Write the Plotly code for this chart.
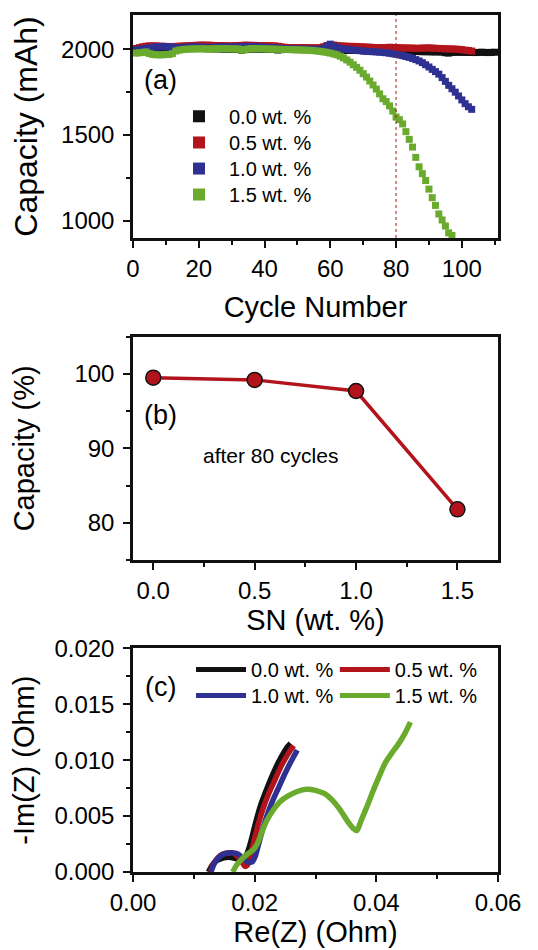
import plotly.graph_objects as go

FONT = "Liberation Sans, Arial, sans-serif"

# ---------------- Panel (a): capacity vs cycle ----------------
cycles_00 = list(range(1, 111))
cap_00 = [1995, 1998, 2000, 2000, 2002, 2003, 2003, 2002, 2001, 2000,
          2000, 2001, 2002, 2003, 2004, 2005, 2005, 2006, 2006, 2005,
          2005, 2004, 2004, 2003, 2003, 2003, 2002, 2002, 2001, 2001,
          2000, 2000, 1995, 1998, 2001, 2002, 2002, 2001, 2000, 2000,
          2000, 1999, 1999, 1996, 1998, 2000, 2001, 2001, 2000, 2000,
          1999, 1999, 1998, 1998, 1998, 1997, 1997, 1996, 1996, 1996,
          1995, 1995, 1995, 1994, 1994, 1994, 1993, 1993, 1993, 1992,
          1992, 1992, 1991, 1991, 1991, 1990, 1990, 1990, 1989, 1989,
          1989, 1988, 1988, 1988, 1987, 1987, 1987, 1986, 1986, 1986,
          1985, 1985, 1985, 1984, 1980, 1978, 1982, 1983, 1983, 1983,
          1982, 1982, 1982, 1981, 1982, 1983, 1982, 1981, 1982, 1983]

cycles_05 = list(range(1, 104))
cap_05 = [2005, 2010, 2015, 2018, 2020, 2020, 2020, 2018, 2018, 2017,
          2016, 2016, 2017, 2018, 2019, 2020, 2021, 2022, 2023, 2024,
          2025, 2024, 2024, 2023, 2022, 2022, 2021, 2021, 2020, 2020,
          2021, 2022, 2023, 2024, 2024, 2023, 2023, 2022, 2022, 2021,
          2021, 2020, 2020, 2018, 2015, 2012, 2010, 2010, 2010, 2010,
          2010, 2010, 2009, 2009, 2009, 2008, 2010, 2015, 2022, 2028,
          2025, 2022, 2020, 2019, 2018, 2017, 2017, 2016, 2015, 2014,
          2013, 2012, 2011, 2010, 2010, 2009, 2010, 2012, 2011, 2010,
          2009, 2008, 2008, 2007, 2007, 2006, 2006, 2007, 2008, 2008,
          2007, 2006, 2005, 2004, 2003, 2002, 2002, 2001, 2000, 1998,
          1995, 1993, 1990]

cycles_10 = list(range(1, 104))
cap_10 = [1998, 2000, 2002, 2005, 2008, 2012, 2014, 2015, 2015, 2015,
          2014, 2013, 2010, 2009, 2010, 2012, 2013, 2014, 2014, 2013,
          2012, 2012, 2011, 2011, 2012, 2013, 2014, 2014, 2013, 2013,
          2014, 2015, 2016, 2017, 2017, 2016, 2015, 2014, 2013, 2012,
          2011, 2010, 2010, 2008, 2004, 2003, 2003, 2002, 2002, 2002,
          2001, 2001, 2001, 2000, 2000, 2000, 2000, 2005, 2020, 2030,
          2018, 2010, 2005, 2002, 2000, 1998, 1996, 1994, 1992, 1990,
          1988, 1987, 1986, 1985, 1983, 1982, 1980, 1977, 1974, 1971,
          1967, 1963, 1958, 1953, 1947, 1940, 1932, 1922, 1910, 1897,
          1883, 1870, 1855, 1835, 1813, 1790, 1770, 1750, 1728, 1705,
          1683, 1665, 1650]

cycles_15 = list(range(1, 98))
cap_15 = [1978, 1980, 1982, 1985, 1975, 1970, 1968, 1968, 1968, 1970,
          1970, 1975, 1990, 1995, 1998, 2000, 2001, 2002, 2002, 2003,
          2003, 2002, 2002, 2003, 2003, 2004, 2004, 2004, 2003, 2003,
          2002, 2002, 1995, 1998, 2002, 2004, 2004, 2003, 2003, 2002,
          2002, 2001, 2001, 2000, 2000, 1999, 1999, 1998, 1997, 1997,
          1996, 1995, 1995, 1994, 1992, 1990, 1988, 1985, 1982, 1978,
          1973, 1968, 1960, 1950, 1938, 1925, 1910, 1895, 1878, 1858,
          1838, 1815, 1792, 1768, 1740, 1712, 1695, 1670, 1640, 1605,
          1590, 1565, 1520, 1475, 1430, 1370, 1315, 1275, 1235, 1185,
          1135, 1090, 1040, 1005, 970, 930, 915]

REF_CYCLE = 80

# ---------------- Panel (b): retention after 80 cycles ----------------
sn_content = [0.0, 0.5, 1.0, 1.5]
retention = [99.5, 99.2, 97.7, 81.8]

# ---------------- Panel (c): Nyquist plots ----------------
re_00 = [0.0124, 0.0130, 0.0137, 0.0145, 0.0153, 0.0161, 0.0169, 0.0176, 0.0182, 0.0187,
         0.0191, 0.0196, 0.0202, 0.0210, 0.0219, 0.0228, 0.0238, 0.0247, 0.0254, 0.0259]
im_00 = [0.0000, 0.0006, 0.0010, 0.0012, 0.0013, 0.0013, 0.0012, 0.0011, 0.0012, 0.0016,
         0.0022, 0.0032, 0.0045, 0.0060, 0.0073, 0.0085, 0.0097, 0.0106, 0.0112, 0.0115]
re_05 = [0.0127, 0.0133, 0.0140, 0.0148, 0.0156, 0.0164, 0.0172, 0.0179, 0.0184, 0.0188,
         0.0193, 0.0199, 0.0206, 0.0214, 0.0223, 0.0233, 0.0243, 0.0252, 0.0259, 0.0264]
im_05 = [0.0000, 0.0008, 0.0013, 0.0016, 0.0017, 0.0017, 0.0014, 0.0009, 0.0005, 0.0006,
         0.0015, 0.0028, 0.0043, 0.0057, 0.0070, 0.0082, 0.0094, 0.0103, 0.0109, 0.0113]
re_10 = [0.0128, 0.0134, 0.0141, 0.0149, 0.0157, 0.0165, 0.0173, 0.0181, 0.0189, 0.0196,
         0.0201, 0.0206, 0.0212, 0.0220, 0.0229, 0.0239, 0.0249, 0.0258, 0.0265, 0.0270]
im_10 = [0.0000, 0.0008, 0.0013, 0.0016, 0.0017, 0.0017, 0.0016, 0.0012, 0.0009, 0.0009,
         0.0014, 0.0024, 0.0036, 0.0050, 0.0063, 0.0075, 0.0087, 0.0097, 0.0104, 0.0109]
re_15 = [0.0164, 0.0170, 0.0178, 0.0188, 0.0198, 0.0205, 0.0212, 0.0220, 0.0230, 0.0242,
         0.0255, 0.0270, 0.0285, 0.0300, 0.0315, 0.0328, 0.0340, 0.0352, 0.0362, 0.0368,
         0.0375, 0.0385, 0.0395, 0.0405, 0.0415, 0.0425, 0.0437, 0.0447, 0.0456]
im_15 = [0.0000, 0.0006, 0.0011, 0.0016, 0.0020, 0.0026, 0.0036, 0.0046, 0.0055, 0.0063,
         0.0068, 0.0072, 0.0074, 0.0073, 0.0070, 0.0064, 0.0056, 0.0046, 0.0039, 0.0037,
         0.0046, 0.0059, 0.0073, 0.0086, 0.0098, 0.0106, 0.0115, 0.0124, 0.0134]

labels = ["0.0 wt. %", "0.5 wt. %", "1.0 wt. %", "1.5 wt. %"]
colors = ["#111111", "#b3141c", "#2e3192", "#6aab2e"]
INK = "#000000"

fig = go.Figure()

# panel (a)
leg_a = ["legend", "legend6", "legend7", "legend8"]
for cx, cy, lab, col, lg in zip([cycles_00, cycles_05, cycles_10, cycles_15],
                                [cap_00, cap_05, cap_10, cap_15], labels, colors, leg_a):
    fig.add_trace(go.Scatter(x=cx, y=cy, mode="markers", name=lab,
                             marker=dict(symbol="square", size=7, color=col),
                             xaxis="x", yaxis="y", legend=lg))

fig.add_trace(go.Scatter(x=[REF_CYCLE, REF_CYCLE], y=[900, 2200], mode="lines",
                         line=dict(color="#9b1b1b", width=1, dash="dot"),
                         showlegend=False, xaxis="x", yaxis="y"))

# panel (b)
fig.add_trace(go.Scatter(x=sn_content, y=retention, mode="lines+markers",
                         line=dict(color="#b3141c", width=3.5),
                         marker=dict(size=15, color="#b3141c", line=dict(color="#111111", width=1.5)),
                         showlegend=False, xaxis="x2", yaxis="y2"))

# panel (c)
leg_c = ["legend2", "legend3", "legend4", "legend5"]
for rx, iy, lab, col, lg in zip([re_00, re_05, re_10, re_15], [im_00, im_05, im_10, im_15],
                                labels, colors, leg_c):
    fig.add_trace(go.Scatter(x=rx, y=iy, mode="lines", name=lab,
                             line=dict(color=col, width=5.5, shape="spline", smoothing=0.6),
                             xaxis="x3", yaxis="y3", legend=lg))

TICKF = dict(family=FONT, size=24, color=INK)
TITLEF = dict(family=FONT, size=29, color=INK)
LEGF = dict(family=FONT, size=20, color=INK)


def ax(**kw):
    base = dict(showline=True, linewidth=2.5, linecolor="#111111", mirror=True,
                ticks="outside", ticklen=7, tickwidth=2, tickcolor="#111111",
                tickfont=TICKF, showgrid=False, zeroline=False, automargin=False,
                ticklabelstandoff=4)
    base.update(kw)
    return base


def minor(d, t0=0):
    return dict(dtick=d, tick0=t0, ticks="outside", ticklen=4, tickwidth=2, tickcolor="#111111",
                showgrid=False)


def leg(x, y):
    return dict(x=x, y=y, xanchor="left", yanchor="top", bgcolor="rgba(0,0,0,0)", font=LEGF,
                itemwidth=50, itemsizing="constant")


# page body has an 8px default margin, so the figure is 8px smaller than the window
fig.update_layout(
    width=530, height=942,
    margin=dict(l=125, r=40, t=7, b=78, autoexpand=False),
    paper_bgcolor="white", plot_bgcolor="white",
    font=dict(family=FONT, color=INK),
    xaxis=ax(domain=[0, 1], anchor="y", range=[0, 111], dtick=20, tick0=0,
             minor=minor(10), ticklabelstandoff=0,
             title=dict(text="Cycle Number", font=TITLEF, standoff=17)),
    yaxis=ax(domain=[0.7398, 1.0], anchor="x", range=[900, 2200], dtick=500, tick0=0,
             minor=minor(250),
             title=dict(text="Capacity (mAh)", font=dict(family=FONT, size=32, color=INK), standoff=21)),
    xaxis2=ax(domain=[0, 1], anchor="y2", range=[-0.1, 1.7], dtick=0.5, tick0=0, tickformat=".1f",
              minor=minor(0.25), ticklabelstandoff=0,
              title=dict(text="SN (wt. %)", font=TITLEF, standoff=4)),
    yaxis2=ax(domain=[0.3641, 0.6246], anchor="x2", range=[75, 105], dtick=10, tick0=0,
              minor=minor(5),
              title=dict(text="Capacity (%)", font=TITLEF, standoff=40)),
    xaxis3=ax(domain=[0, 1], anchor="y3", range=[0, 0.06], dtick=0.02, tick0=0, tickformat=".2f",
              minor=minor(0.01), ticklabelstandoff=0,
              title=dict(text="Re(Z) (Ohm)", font=TITLEF, standoff=7)),
    yaxis3=ax(domain=[0.0, 0.261], anchor="x3", range=[0, 0.02], dtick=0.005, tick0=0, tickformat=".3f",
              minor=minor(0.0025),
              title=dict(text="-Im(Z) (Ohm)", font=TITLEF, standoff=17)),
    legend=leg(0.0986, 0.9047),
    legend6=leg(0.0986, 0.8740),
    legend7=leg(0.0986, 0.8436),
    legend8=leg(0.0986, 0.8133),
    legend2=leg(0.159, 0.2590),
    legend3=leg(0.553, 0.2590),
    legend4=leg(0.159, 0.2287),
    legend5=leg(0.553, 0.2287),
    annotations=[
        dict(text="(a)", xref="x domain", yref="y domain", x=0.074, y=0.708,
             xanchor="center", yanchor="middle",
             showarrow=False, font=dict(family=FONT, size=27, color=INK)),
        dict(text="(b)", xref="x2 domain", yref="y2 domain", x=0.074, y=0.649,
             xanchor="center", yanchor="middle",
             showarrow=False, font=dict(family=FONT, size=27, color=INK)),
        dict(text="after 80 cycles", xref="x2 domain", yref="y2 domain", x=0.378, y=0.470,
             xanchor="center", yanchor="middle",
             showarrow=False, font=dict(family=FONT, size=21, color=INK)),
        dict(text="(c)", xref="x3 domain", yref="y3 domain", x=0.074, y=0.828,
             xanchor="center", yanchor="middle",
             showarrow=False, font=dict(family=FONT, size=27, color=INK)),
    ],
)

fig.write_html("out.html")
